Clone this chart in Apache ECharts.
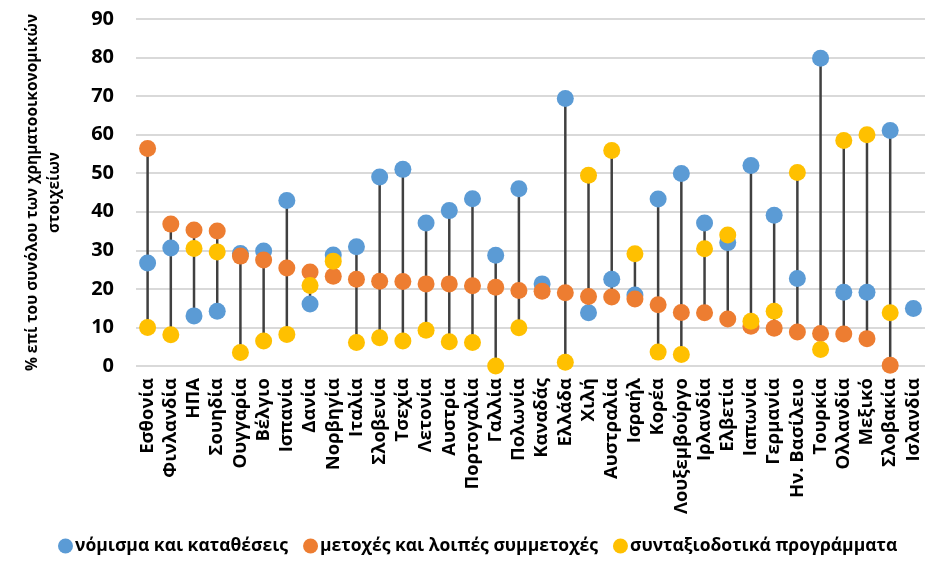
<!DOCTYPE html>
<html>
<head>
<meta charset="utf-8">
<script src="https://cdn.jsdelivr.net/npm/echarts@6/dist/echarts.min.js"></script>
<style>
  html, body { margin: 0; padding: 0; background: #fff; }
  #chart { width: 930px; height: 563px; }
</style>
</head>
<body>
<div id="chart"></div>
<script>
// Countries on the category axis
const countries = ['Εσθονία','Φινλανδία','ΗΠΑ','Σουηδία','Ουγγαρία','Βέλγιο','Ισπανία','Δανία','Νορβηγία','Ιταλία','Σλοβενία','Τσεχία','Λετονία','Αυστρία','Πορτογαλία','Γαλλία','Πολωνία','Καναδάς','Ελλάδα','Χιλή','Αυστραλία','Ισραήλ','Κορέα','Λουξεμβούργο','Ιρλανδία','Ελβετία','Ιαπωνία','Γερμανία','Ην. Βασίλειο','Τουρκία','Ολλανδία','Μεξικό','Σλοβακία','Ισλανδία'];

// Currency and deposits (%)
const currencyDeposits = [26.7,30.6,13.0,14.2,29.2,29.8,42.9,16.1,28.8,30.9,49.0,51.0,37.1,40.3,43.4,28.7,46.0,21.3,69.4,13.8,22.5,18.4,43.3,49.9,37.1,32.0,52.0,39.1,22.7,79.8,19.1,19.1,61.1,14.9];

// Shares and other equity (%)
const sharesEquity = [56.4,36.8,35.3,35.0,28.5,27.5,25.4,24.4,23.3,22.5,22.0,21.9,21.3,21.3,20.8,20.4,19.6,19.4,19.0,18.0,17.9,17.4,15.9,13.9,13.8,12.2,10.3,9.8,8.8,8.4,8.3,7.1,0.2,null];

// Pension schemes (%)
const pensionSchemes = [10.0,8.1,30.5,29.6,3.5,6.5,8.2,20.9,27.2,6.1,7.3,6.5,9.3,6.3,6.1,0.0,9.9,null,1.0,49.5,55.9,29.1,3.6,3.0,30.4,34.0,11.6,14.2,50.2,4.3,58.5,60.0,13.8,null];

// Y axis ticks
const yMin = 0, yMax = 90, yStep = 10;

const seriesNames = ['νόμισμα και καταθέσεις','μετοχές και λοιπές συμμετοχές','συνταξιοδοτικά προγράμματα'];
const colors = ['#5b9bd5','#ed7d31','#ffc000'];

// Range (min..max) of the three values for each country, used for the connector
const ranges = countries.map((c, i) => {
  const vals = [currencyDeposits[i], sharesEquity[i], pensionSchemes[i]].filter(v => v !== null);
  return [i, Math.min(...vals), Math.max(...vals)];
});

const font = '"Open Sans", "Noto Sans", sans-serif';
const chart = echarts.init(document.getElementById('chart'), null, { renderer: 'canvas' });

const dotSeries = [currencyDeposits, sharesEquity, pensionSchemes].map((d, k) => ({
  name: seriesNames[k],
  type: 'scatter',
  data: d,
  symbol: 'circle',
  symbolSize: 17,
  itemStyle: { color: colors[k], opacity: 1 },
  z: 3 + k,
  emphasis: { disabled: true }
}));

chart.setOption({
  animation: false,
  backgroundColor: '#fff',
  textStyle: { fontFamily: font },
  grid: { left: 136, right: 5, top: 19, bottom: 197, containLabel: false, outerBoundsMode: 'none' },
  legend: {
    data: seriesNames.map(n => ({ name: n, icon: 'circle' })),
    bottom: 3,
    left: 53,
    itemWidth: 15,
    itemHeight: 15,
    itemGap: 15,
    textStyle: { fontFamily: font, fontWeight: 'bold', fontSize: 17.5, color: '#000', padding: [0, 0, 0, -3] }
  },
  xAxis: {
    type: 'category',
    data: countries,
    axisLine: { show: false },
    axisTick: { show: false },
    axisLabel: {
      interval: 0,
      rotate: 90,
      margin: 12,
      fontFamily: font,
      fontWeight: 'bold',
      fontSize: 18.5,
      color: '#000'
    }
  },
  yAxis: {
    type: 'value',
    min: yMin,
    max: yMax,
    interval: yStep,
    name: '% επί του συνόλου των χρηματοοικονομικών\nστοιχείων',
    nameLocation: 'middle',
    nameGap: 70,
    nameTextStyle: { fontFamily: font, fontWeight: 'bold', fontSize: 15.5, color: '#000', lineHeight: 22 },
    axisLine: { show: false },
    axisTick: { show: false },
    axisLabel: { fontFamily: font, fontWeight: 'bold', fontSize: 20, color: '#000', margin: 22 },
    splitLine: { lineStyle: { color: '#d9d9d9', width: 2 } }
  },
  series: [
    {
      name: 'range',
      type: 'custom',
      data: ranges,
      z: 2,
      silent: true,
      renderItem: (params, api) => {
        const top = api.coord([api.value(0), api.value(2)]);
        const bot = api.coord([api.value(0), api.value(1)]);
        return {
          type: 'line',
          shape: { x1: top[0], y1: top[1], x2: bot[0], y2: bot[1] },
          style: { stroke: '#404040', lineWidth: 2.5 }
        };
      }
    },
    ...dotSeries
  ]
});
</script>
</body>
</html>
